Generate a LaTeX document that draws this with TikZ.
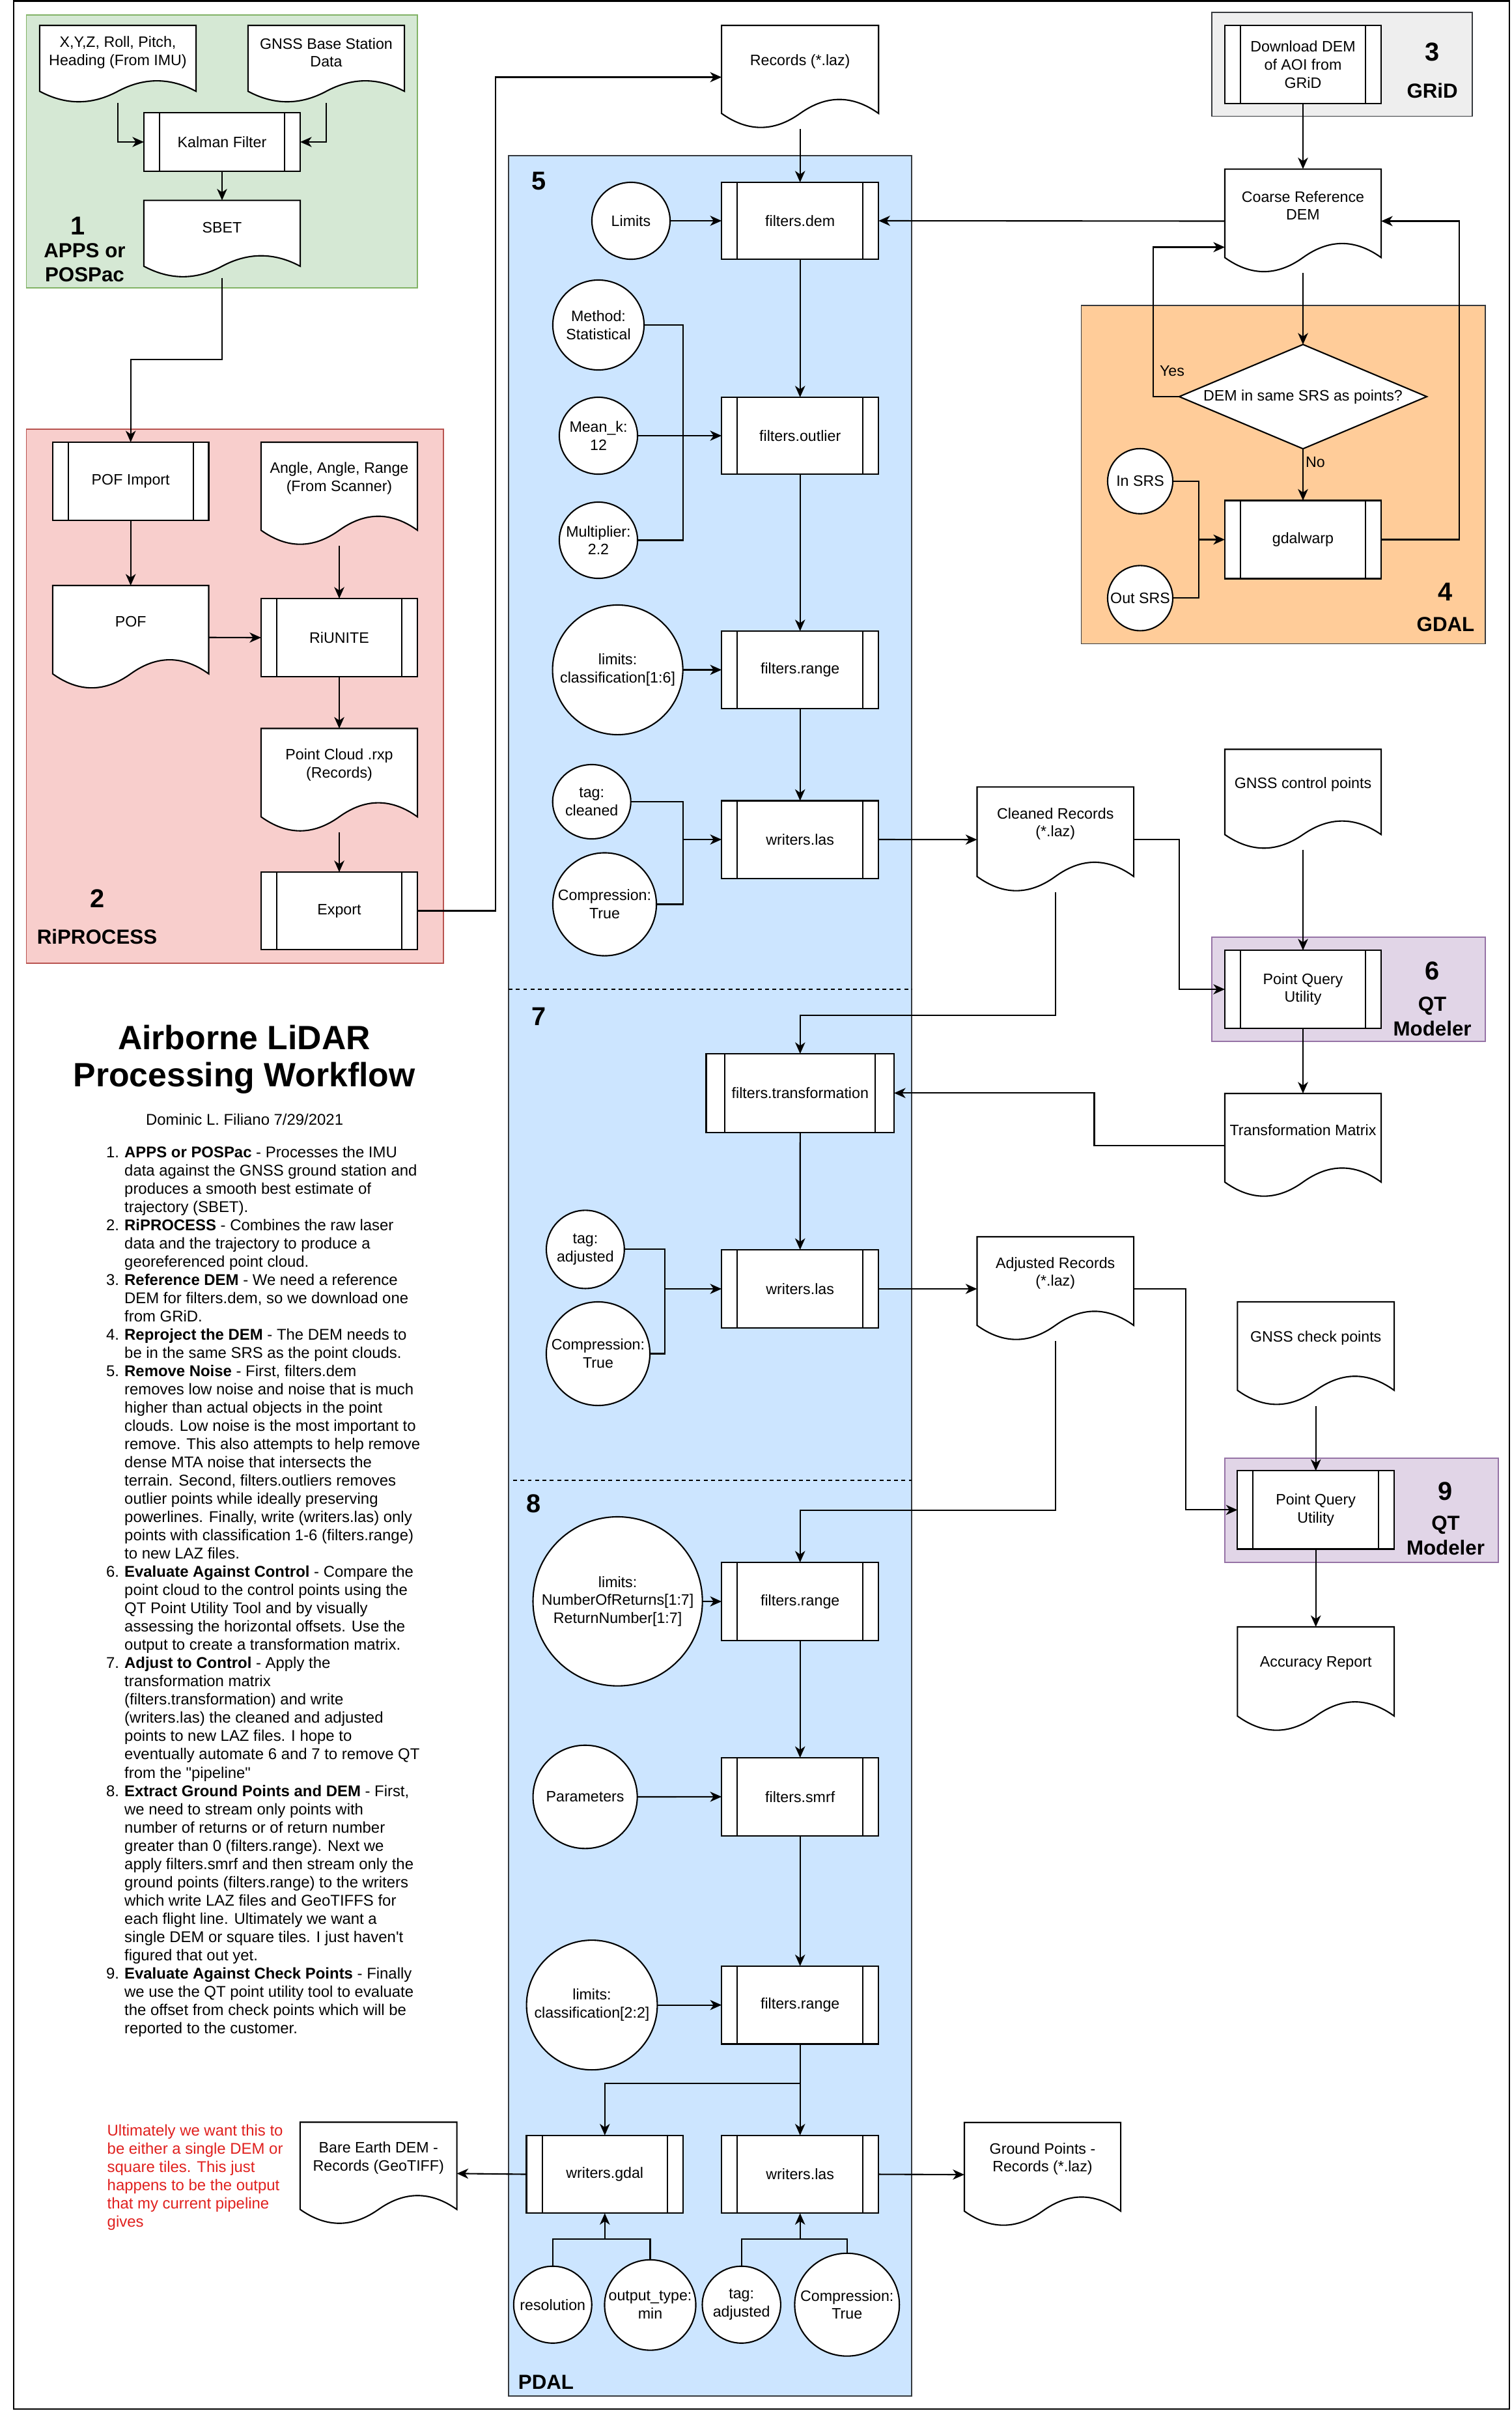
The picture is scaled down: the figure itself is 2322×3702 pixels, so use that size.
\documentclass[tikz,border=0pt]{standalone}
\usepackage{fontspec}
\setmainfont{Liberation Sans}
\newfontfamily\notesfont{Liberation Sans}[Ligatures=TeXOff]
\usetikzlibrary{arrows.meta,shapes.geometric}
\makeatletter
\newdimen\shpx \newdimen\shpy \newdimen\shpw \newdimen\shph
\def\shpget{%
  \southwest \shpx=\pgf@x \shpy=\pgf@y
  \northeast \shpw=\pgf@x \advance\shpw by -\shpx
  \shph=\pgf@y \advance\shph by -\shpy}
\def\shpp#1#2{\pgfpointadd{\pgfqpoint{\shpx}{\shpy}}{\pgfqpoint{#1}{#2}}}
\pgfdeclareshape{wavedoc}{%
  \inheritsavedanchors[from=rectangle]%
  \inheritanchorborder[from=rectangle]%
  \inheritanchor[from=rectangle]{center}%
  \inheritanchor[from=rectangle]{north}%
  \inheritanchor[from=rectangle]{south}%
  \inheritanchor[from=rectangle]{east}%
  \inheritanchor[from=rectangle]{west}%
  \inheritanchor[from=rectangle]{north east}%
  \inheritanchor[from=rectangle]{north west}%
  \inheritanchor[from=rectangle]{south east}%
  \inheritanchor[from=rectangle]{south west}%
  \backgroundpath{%
    \shpget
    \pgfpathmoveto{\shpp{0pt}{\shph}}%
    \pgfpathlineto{\shpp{\shpw}{\shph}}%
    \pgfpathlineto{\shpp{\shpw}{0.15\shph}}%
    \pgfpathquadraticcurveto{\shpp{0.75\shpw}{0.42\shph}}{\shpp{0.5\shpw}{0.15\shph}}%
    \pgfpathquadraticcurveto{\shpp{0.25\shpw}{-0.12\shph}}{\shpp{0pt}{0.15\shph}}%
    \pgfpathclose}%
}
\pgfdeclareshape{procbox}{%
  \inheritsavedanchors[from=rectangle]%
  \inheritanchorborder[from=rectangle]%
  \inheritanchor[from=rectangle]{center}%
  \inheritanchor[from=rectangle]{north}%
  \inheritanchor[from=rectangle]{south}%
  \inheritanchor[from=rectangle]{east}%
  \inheritanchor[from=rectangle]{west}%
  \inheritanchor[from=rectangle]{north east}%
  \inheritanchor[from=rectangle]{north west}%
  \inheritanchor[from=rectangle]{south east}%
  \inheritanchor[from=rectangle]{south west}%
  \backgroundpath{%
    \shpget
    \pgfpathrectangle{\pgfqpoint{\shpx}{\shpy}}{\pgfqpoint{\shpw}{\shph}}%
    \pgfpathmoveto{\shpp{0.1\shpw}{0pt}}%
    \pgfpathlineto{\shpp{0.1\shpw}{\shph}}%
    \pgfpathmoveto{\shpp{0.9\shpw}{0pt}}%
    \pgfpathlineto{\shpp{0.9\shpw}{\shph}}}%
}
\pgfdeclareshape{rhomb}{%
  \inheritsavedanchors[from=rectangle]%
  \inheritanchorborder[from=rectangle]%
  \inheritanchor[from=rectangle]{center}%
  \inheritanchor[from=rectangle]{north}%
  \inheritanchor[from=rectangle]{south}%
  \inheritanchor[from=rectangle]{east}%
  \inheritanchor[from=rectangle]{west}%
  \backgroundpath{%
    \shpget
    \pgfpathmoveto{\shpp{0pt}{0.5\shph}}%
    \pgfpathlineto{\shpp{0.5\shpw}{\shph}}%
    \pgfpathlineto{\shpp{\shpw}{0.5\shph}}%
    \pgfpathlineto{\shpp{0.5\shpw}{0pt}}%
    \pgfpathclose}%
}
\makeatother
\definecolor{gfill}{HTML}{D5E8D4}\definecolor{gdraw}{HTML}{82B366}
\definecolor{rfill}{HTML}{F8CECC}\definecolor{rdraw}{HTML}{B85450}
\definecolor{grfill}{HTML}{EEEEEE}\definecolor{dkdraw}{HTML}{36393D}
\definecolor{ofill}{HTML}{FFCC99}
\definecolor{bfill}{HTML}{CCE5FF}
\definecolor{pfill}{HTML}{E1D5E7}\definecolor{pdraw}{HTML}{9673A6}
\definecolor{redtxt}{HTML}{E0201E}
\begin{document}
\begin{tikzpicture}[x=0.01cm,y=-0.01cm,
  txt/.style={font=\fontsize{6.6}{7.9}\selectfont, align=center, inner sep=0pt, outer sep=0pt},
  proc/.style n args={2}{txt, shape=procbox, draw, fill=white, line width=0.6pt, minimum width=#1, minimum height=#2},
  doc/.style n args={3}{shape=wavedoc, draw, fill=white, line width=0.6pt, inner sep=0pt, outer sep=0pt, minimum width=#1, minimum height=#2, label={[txt, yshift={0.15*(#2)}]center:{#3}}},
  ell/.style n args={3}{ellipse, draw, fill=white, line width=0.6pt, inner sep=0pt, outer sep=0pt, minimum width=#1, minimum height=#2, label={[txt]center:{#3}}},
  arr/.style={line width=0.6pt, -{Stealth[length=5pt,width=4.4pt,inset=1.5pt]}},
  ln/.style={line width=0.6pt},
  cont/.style={line width=0.5pt},
  numlab/.style={font=\bfseries\fontsize{11.3}{13}\selectfont, inner sep=0pt},
  namelab/.style={font=\bfseries\fontsize{8.9}{10.7}\selectfont, align=center, inner sep=0pt},
]
\fill[white] (0,0) rectangle (2322,3702);
\useasboundingbox (0,0) rectangle (2322,3702);
\draw[line width=0.7pt] (21,1.5) rectangle (2318,3699);

% containers
\draw[cont, draw=gdraw, fill=gfill] (40.4,23) rectangle (641,442);
\draw[cont, draw=rdraw, fill=rfill] (40.4,659) rectangle (681,1479);
\draw[cont, draw=dkdraw, fill=grfill] (1860.7,19) rectangle (2261,178.6);
\draw[cont, draw=dkdraw, fill=ofill] (1660.5,468.8) rectangle (2281,988.5);
\draw[cont, draw=dkdraw, fill=bfill] (781,239) rectangle (1400,3679);
\draw[cont, draw=pdraw, fill=pfill] (1860.7,1439) rectangle (2281,1598.7);
\draw[cont, draw=pdraw, fill=pfill] (1880.9,2239) rectangle (2301,2398.7);
\draw[cont, dash pattern=on 1.7pt off 1.5pt] (781,1519) -- (1400,1519);
\draw[cont, dash pattern=on 1.7pt off 1.5pt] (788,2273) -- (1400,2273);

% 1
\node[doc={2.4cm}{1.19cm}{X,Y,Z, Roll, Pitch,\\Heading (From IMU)}] (imu) at (181,98.5) {};
\node[doc={2.4cm}{1.19cm}{GNSS Base Station\\Data}] (gnssbase) at (501,98.5) {};
\node[proc={2.4cm}{0.9cm}] (kalman) at (341,218) {Kalman Filter};
\node[doc={2.4cm}{1.19cm}{SBET}] (sbet) at (341,367.1) {};
\node[numlab] (num1) at (120,347) {1};
\node[namelab] (name1) at (130,403.3) {APPS or\\POSPac};

% 2
\node[proc={2.395cm}{1.2cm}] (pofimport) at (200.7,739) {POF Import};
\node[doc={2.4cm}{1.59cm}{Angle, Angle, Range\\(From Scanner)}] (angle) at (521,758.5) {};
\node[doc={2.395cm}{1.595cm}{POF}] (pof) at (200.7,978.75) {};
\node[proc={2.4cm}{1.2cm}] (riunite) at (521,979) {RiUNITE};
\node[doc={2.4cm}{1.595cm}{Point Cloud .rxp\\(Records)}] (pointcloud) at (521,1198.3) {};
\node[proc={2.4cm}{1.19cm}] (export) at (521,1398.5) {Export};
\node[numlab] (num2) at (150,1380) {2};
\node[namelab] (name2) at (149,1438) {RiPROCESS};

% 3 and 4
\node[proc={2.4cm}{1.193cm}] (download) at (2001,99) {Download DEM\\of AOI from\\GRiD};
\node[numlab] (num3) at (2199.6,80) {3};
\node[namelab] (name3) at (2199.6,139) {GRiD};
\node[doc={2.4cm}{1.598cm}{Coarse Reference\\DEM}] (coarse) at (2001,339.5) {};
\node[txt, shape=rhomb, draw, fill=white, line width=0.6pt, minimum width=3.8cm, minimum height=1.6cm] (dia) at (2001,609) {DEM in same SRS as points?};
\node[proc={2.4cm}{1.2cm}] (gdalwarp) at (2001,828.5) {gdalwarp};
\node[ell={1cm}{1cm}{In SRS}] (insrs) at (1751,738.8) {};
\node[ell={1cm}{1cm}{Out SRS}] (outsrs) at (1751,918.4) {};
\node[txt] (yes) at (1800,569.5) {Yes};
\node[txt] (no) at (2020,710) {No};
\node[numlab] (num4) at (2220,909) {4};
\node[namelab] (name4) at (2220,958.5) {GDAL};

% 5
\node[numlab] (num5) at (828,278) {5};
\node[doc={2.41cm}{1.59cm}{Records (*.laz)}] (records) at (1228.7,118.5) {};
\node[proc={2.41cm}{1.18cm}] (fdem) at (1228.7,339) {filters.dem};
\node[ell={1.2cm}{1.18cm}{Limits}] (limits) at (969,339) {};
\node[ell={1.4cm}{1.38cm}{Method:\\Statistical}] (method) at (919,499) {};
\node[ell={1.2cm}{1.18cm}{Mean\_k:\\12}] (meank) at (919,669) {};
\node[ell={1.2cm}{1.17cm}{Multiplier:\\2.2}] (mult) at (919,829.5) {};
\node[proc={2.41cm}{1.18cm}] (foutlier) at (1228.7,669) {filters.outlier};
\node[ell={2cm}{1.99cm}{limits:\\classification[1:6]}] (class16) at (948.6,1028.5) {};
\node[proc={2.41cm}{1.19cm}] (frange5) at (1228.7,1028.5) {filters.range};
\node[ell={1.2cm}{1.14cm}{tag:\\cleaned}] (tagc) at (908.7,1231) {};
\node[ell={1.59cm}{1.58cm}{Compression:\\True}] (compc) at (928.5,1388.5) {};
\node[proc={2.41cm}{1.19cm}] (wlas5) at (1228.7,1289) {writers.las};
\node[doc={2.405cm}{1.616cm}{Cleaned Records\\(*.laz)}] (cleaned) at (1620.75,1289.2) {};

% 6
\node[doc={2.4cm}{1.54cm}{GNSS control points}] (gnssctrl) at (2001,1227.5) {};
\node[proc={2.4cm}{1.196cm}] (pqu6) at (2001,1519) {Point Query\\Utility};
\node[numlab] (num6) at (2199.6,1490.8) {6};
\node[namelab] (name6) at (2199.6,1560.5) {QT\\Modeler};
\node[doc={2.4cm}{1.6cm}{Transformation Matrix}] (transmat) at (2001,1759) {};

% 7
\node[numlab] (num7) at (828,1560.6) {7};
\node[proc={2.884cm}{1.205cm}] (ftrans) at (1228.8,1678.3) {filters.transformation};
\node[ell={1.197cm}{1.2cm}{tag:\\adjusted}] (tag7) at (898.9,1918.4) {};
\node[ell={1.59cm}{1.59cm}{Compression:\\True}] (comp7) at (918.5,2078.5) {};
\node[proc={2.41cm}{1.2cm}] (wlas7) at (1228.7,1979) {writers.las};
\node[doc={2.405cm}{1.6cm}{Adjusted Records\\(*.laz)}] (adjusted) at (1620.75,1979) {};

% 9
\node[doc={2.406cm}{1.598cm}{GNSS check points}] (gnsscheck) at (2020.7,2078.8) {};
\node[proc={2.406cm}{1.2cm}] (pqu9) at (2020.7,2318.4) {Point Query\\Utility};
\node[numlab] (num9) at (2220,2290) {9};
\node[namelab] (name9) at (2220,2358) {QT\\Modeler};
\node[doc={2.406cm}{1.61cm}{Accuracy Report}] (accuracy) at (2020.7,2578.5) {};

% 8
\node[numlab] (num8) at (819.6,2308.7) {8};
\node[ell={2.6cm}{2.595cm}{limits:\\NumberOfReturns[1:7]\\ReturnNumber[1:7]}] (nret) at (948.6,2458.8) {};
\node[proc={2.41cm}{1.2cm}] (fr8a) at (1228.7,2459) {filters.range};
\node[ell={1.6cm}{1.585cm}{Parameters}] (params) at (898.6,2759) {};
\node[proc={2.41cm}{1.196cm}] (smrf) at (1228.7,2758.8) {filters.smrf};
\node[ell={2.007cm}{1.99cm}{limits:\\classification[2:2]}] (class22) at (909,3078.6) {};
\node[proc={2.41cm}{1.196cm}] (fr8b) at (1228.7,3078.6) {filters.range};
\node[proc={2.404cm}{1.196cm}] (wgdal) at (928.8,3338.5) {writers.gdal};
\node[proc={2.41cm}{1.196cm}] (wlas8) at (1228.7,3338.5) {writers.las};
\node[ell={1.198cm}{1.18cm}{resolution}] (resol) at (848.8,3538.7) {};
\node[ell={1.4cm}{1.387cm}{output\_type:\\min}] (outtype) at (998.5,3539.2) {};
\node[ell={1.203cm}{1.18cm}{tag:\\adjusted}] (tag8) at (1138.7,3538.7) {};
\node[ell={1.607cm}{1.578cm}{Compression:\\True}] (comp8) at (1300.8,3538.7) {};
\node[doc={2.405cm}{1.575cm}{Bare Earth DEM -\\Records (GeoTIFF)}] (bareearth) at (581.25,3337.3) {};
\node[doc={2.4cm}{1.6cm}{Ground Points -\\Records (*.laz)}] (ground) at (1601,3339) {};
\node[namelab] (pdal) at (838.5,3658) {PDAL};

% title and notes
\node[font=\bfseries\fontsize{14.7}{16.2}\selectfont, align=center, inner sep=0pt, anchor=north] (title) at (375,1568.4) {\rule{0pt}{12pt}Airborne LiDAR\\Processing Workflow};
\node[font=\fontsize{6.8}{8}\selectfont, inner sep=0pt] (author) at (375.6,1719) {Dominic L. Filiano 7/29/2021};
\node[anchor=north west, align=left, inner sep=0pt, font=\notesfont\fontsize{6.8}{7.97}\selectfont] (notes) at (190.5,1751.7) {%
\rule{0pt}{7pt}\llap{1.\hspace{2.3pt}}\textbf{APPS or POSPac} - Processes the IMU\\
data against the GNSS ground station and\\
produces a smooth best estimate of\\
trajectory (SBET).\\
\llap{2.\hspace{2.3pt}}\textbf{RiPROCESS} - Combines the raw laser\\
data and the trajectory to produce a\\
georeferenced point cloud.\\
\llap{3.\hspace{2.3pt}}\textbf{Reference DEM} - We need a reference\\
DEM for filters.dem, so we download one\\
from GRiD.\\
\llap{4.\hspace{2.3pt}}\textbf{Reproject the DEM} - The DEM needs to\\
be in the same SRS as the point clouds.\\
\llap{5.\hspace{2.3pt}}\textbf{Remove Noise} - First, filters.dem\\
removes low noise and noise that is much\\
higher than actual objects in the point\\
clouds. Low noise is the most important to\\
remove. This also attempts to help remove\\
dense MTA noise that intersects the\\
terrain. Second, filters.outliers removes\\
outlier points while ideally preserving\\
powerlines. Finally, write (writers.las) only\\
points with classification 1-6 (filters.range)\\
to new LAZ files.\\
\llap{6.\hspace{2.3pt}}\textbf{Evaluate Against Control} - Compare the\\
point cloud to the control points using the\\
QT Point Utility Tool and by visually\\
assessing the horizontal offsets. Use the\\
output to create a transformation matrix.\\
\llap{7.\hspace{2.3pt}}\textbf{Adjust to Control} - Apply the\\
transformation matrix\\
(filters.transformation) and write\\
(writers.las) the cleaned and adjusted\\
points to new LAZ files. I hope to\\
eventually automate 6 and 7 to remove QT\\
from the "pipeline"\\
\llap{8.\hspace{2.3pt}}\textbf{Extract Ground Points and DEM} - First,\\
we need to stream only points with\\
number of returns or of return number\\
greater than 0 (filters.range). Next we\\
apply filters.smrf and then stream only the\\
ground points (filters.range) to the writers\\
which write LAZ files and GeoTIFFS for\\
each flight line. Ultimately we want a\\
single DEM or square tiles. I just haven't\\
figured that out yet.\\
\llap{9.\hspace{2.3pt}}\textbf{Evaluate Against Check Points} - Finally\\
we use the QT point utility tool to evaluate\\
the offset from check points which will be\\
reported to the customer.};
\node[anchor=north west, align=left, inner sep=0pt, text=redtxt, font=\fontsize{6.8}{7.97}\selectfont] (rednote) at (164,3254) {\rule{0pt}{7pt}Ultimately we want this to\\
be either a single DEM or\\
square tiles. This just\\
happens to be the output\\
that my current pipeline\\
gives};

% connectors
\draw[arr] (imu.south) |- (kalman.west);
\draw[arr] (gnssbase.south) |- (kalman.east);
\draw[arr] (kalman.south) -- (sbet.north);
\draw[arr] (sbet.south) -- ++(0,125.4) -| (pofimport.north);
\draw[arr] (pofimport.south) -- (pof.north);
\draw[arr] (angle.south) -- (riunite.north);
\draw[arr] (pof.east) -- (riunite.west);
\draw[arr] (riunite.south) -- (pointcloud.north);
\draw[arr] (pointcloud.south) -- (export.north);
\draw[arr] (export.east) -- ++(120,0) |- (records.west);
\draw[arr] (download.south) -- (coarse.north);
\draw[arr] (coarse.west) -- (fdem.east);
\draw[arr] (coarse.south) -- (dia.north);
\draw[arr] (dia.west) -- ++(-40,0) |- ([yshift=-0.4cm]coarse.west);
\draw[arr] (dia.south) -- (gdalwarp.north);
\coordinate (jgw) at (1841,828.5);
\draw[ln] (insrs.east) -| (jgw) |- (outsrs.east);
\draw[arr] (jgw) -- (gdalwarp.west);
\draw[arr] (gdalwarp.east) -- ++(119.5,0) |- (coarse.east);
\draw[arr] (records.south) -- (fdem.north);
\draw[arr] (limits.east) -- (fdem.west);
\draw[arr] (fdem.south) -- (foutlier.north);
\coordinate (j5a) at (1049,669);
\draw[ln] (method.east) -| (j5a) |- (mult.east);
\draw[arr] (meank.east) -- (foutlier.west);
\draw[arr] (class16.east) -- (frange5.west);
\draw[arr] (foutlier.south) -- (frange5.north);
\draw[arr] (frange5.south) -- (wlas5.north);
\coordinate (j5b) at (1049,1289);
\draw[ln] (tagc.east) -| (j5b) |- (compc.east);
\draw[arr] (j5b) -- (wlas5.west);
\draw[arr] (wlas5.east) -- (cleaned.west);
\draw[arr] (cleaned.east) -- ++(70,0) |- (pqu6.west);
\draw[arr] (gnssctrl.south) -- (pqu6.north);
\draw[arr] (pqu6.south) -- (transmat.north);
\draw[arr] (cleaned.south) -- ++(0,188.5) -| (ftrans.north);
\draw[arr] (transmat.west) -- ++(-200.4,0) |- (ftrans.east);
\draw[arr] (ftrans.south) -- (wlas7.north);
\coordinate (j7) at (1020.7,1979);
\draw[ln] (tag7.east) -| (j7) |- (comp7.east);
\draw[arr] (j7) -- (wlas7.west);
\draw[arr] (wlas7.east) -- (adjusted.west);
\draw[arr] (adjusted.east) -- ++(80,0) |- (pqu9.west);
\draw[arr] (gnsscheck.south) -- (pqu9.north);
\draw[arr] (pqu9.south) -- (accuracy.north);
\draw[arr] (adjusted.south) -- ++(0,260) -| (fr8a.north);
\draw[arr] (nret.east) -- (fr8a.west);
\draw[arr] (fr8a.south) -- (smrf.north);
\draw[arr] (params.east) -- (smrf.west);
\draw[arr] (smrf.south) -- (fr8b.north);
\draw[arr] (class22.east) -- (fr8b.west);
\draw[arr] (fr8b.south) -- (wlas8.north);
\draw[arr] (fr8b.south) -- ++(0,60.6) -| (wgdal.north);
\draw[arr] (wgdal.west) -- (bareearth.east);
\draw[arr] (wlas8.east) -- (ground.west);
\coordinate (jg8) at (928.8,3438);
\draw[ln] (resol.north) |- (jg8) -| (outtype.north);
\draw[arr] (jg8) -- (wgdal.south);
\coordinate (jl8) at (1228.7,3438);
\draw[ln] (tag8.north) |- (jl8) -| (comp8.north);
\draw[arr] (jl8) -- (wlas8.south);
\end{tikzpicture}
\end{document}
